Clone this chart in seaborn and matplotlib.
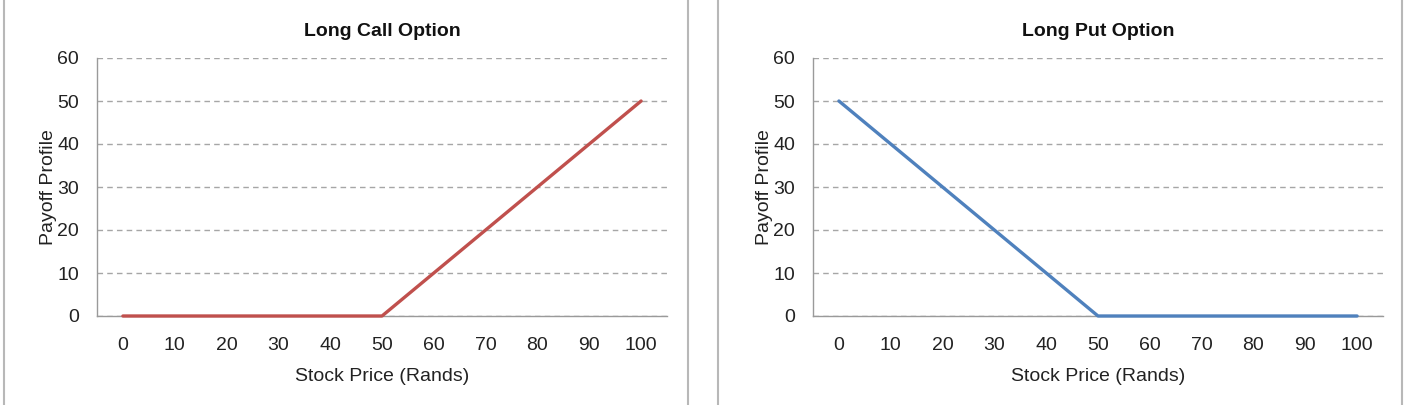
import numpy as np
import pandas as pd
import matplotlib
matplotlib.use('Agg')
import matplotlib.pyplot as plt
from matplotlib.lines import Line2D
import seaborn as sns

# data
stock_price = [0, 10, 20, 30, 40, 50, 60, 70, 80, 90, 100]
call_payoff = [0, 0, 0, 0, 0, 0, 10, 20, 30, 40, 50]
put_payoff = [50, 40, 30, 20, 10, 0, 0, 0, 0, 0, 0]
titles = ['Long Call Option', 'Long Put Option']
colors = ['#C0504D', '#4F81BD']

sns.set_theme(style='white')
plt.rcParams['font.family'] = ['Liberation Sans', 'DejaVu Sans']

fig = plt.figure(figsize=(14.07, 4.05), dpi=100)
lefts = [97 / 1407, 813 / 1407]
axes = [fig.add_axes([l, 1 - 316 / 405, 570 / 1407, 258 / 405]) for l in lefts]

axis_grey = '#9a9a9a'
txt = '#222222'
fs = 14
for ax, title, payoff, col in zip(axes, titles, [call_payoff, put_payoff], colors):
    df = pd.DataFrame({'pos': np.arange(len(stock_price)), 'payoff': payoff})
    sns.lineplot(data=df, x='pos', y='payoff', ax=ax, color=col, linewidth=2.4,
                 zorder=3, clip_on=False)
    ax.set_xlim(-0.5, len(stock_price) - 0.5)
    ax.set_ylim(0, 60)
    ax.set_yticks(range(0, 61, 10))
    ax.set_xticks(np.arange(len(stock_price)))
    ax.set_xticklabels([str(s) for s in stock_price])
    ax.set_xticks(np.arange(-0.5, len(stock_price)), minor=True)
    ax.tick_params(axis='x', which='major', length=0, pad=15, labelsize=fs, colors=txt)
    ax.tick_params(axis='x', which='minor', length=5, width=1, color=axis_grey, direction='out')
    ax.tick_params(axis='y', length=5, width=1, color=axis_grey, direction='out',
                   labelsize=fs, labelcolor=txt, pad=8)
    ax.yaxis.grid(True, linestyle=(0, (4, 3)), color='#a6a6a6', linewidth=1)
    ax.xaxis.grid(False)
    for s in ['top', 'right']:
        ax.spines[s].set_visible(False)
    for s in ['left', 'bottom']:
        ax.spines[s].set_color(axis_grey)
        ax.spines[s].set_linewidth(1)
    ax.set_xlabel('Stock Price (Rands)', fontsize=fs, color=txt, labelpad=10)
    ax.set_ylabel('Payoff Profile', fontsize=fs, color=txt, labelpad=0)
    ax.set_title(title, fontsize=14, fontweight='bold', color='#111111', pad=16)

# panel borders
for x in [4, 688, 718, 1402]:
    fig.add_artist(Line2D([x / 1407, x / 1407], [0, 1], color='#b8b8b8', linewidth=1.5))

fig.savefig('out.png', dpi=100)
